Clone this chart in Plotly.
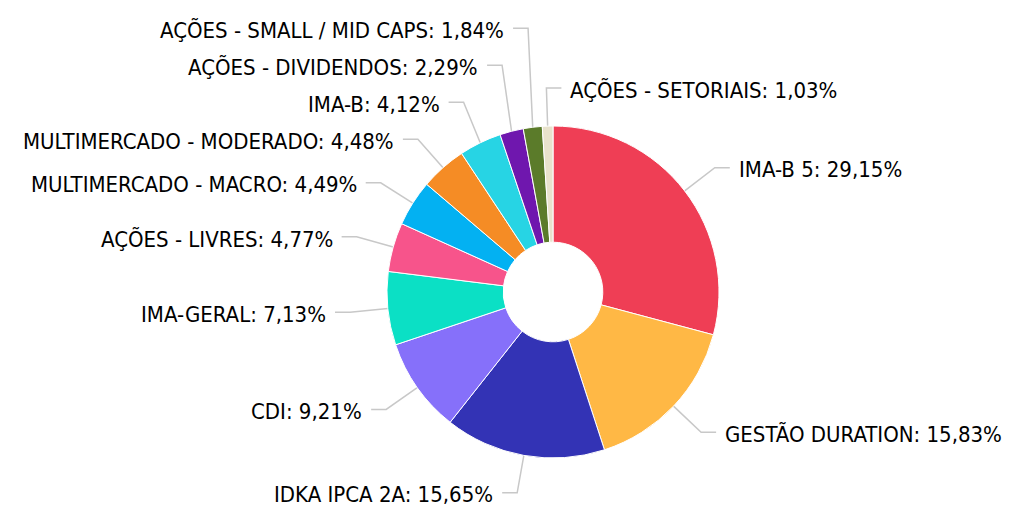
import math
import plotly.graph_objects as go

categories = ["IMA-B 5", "GESTÃO DURATION", "IDKA IPCA 2A", "CDI", "IMA-GERAL",
              "AÇÕES - LIVRES", "MULTIMERCADO - MACRO", "MULTIMERCADO - MODERADO",
              "IMA-B", "AÇÕES - DIVIDENDOS", "AÇÕES - SMALL / MID CAPS", "AÇÕES - SETORIAIS"]
values = [29.15, 15.83, 15.65, 9.21, 7.13, 4.77, 4.49, 4.48, 4.12, 2.29, 1.84, 1.03]
value_labels = ["29,15%", "15,83%", "15,65%", "9,21%", "7,13%", "4,77%", "4,49%", "4,48%",
                "4,12%", "2,29%", "1,84%", "1,03%"]
colors = ["#EF3E55", "#FFB845", "#3333B5", "#8670FA", "#0BE0C5", "#F7548B",
          "#03B1F2", "#F58C25", "#27D4E4", "#6F17AE", "#5B7B2A", "#E8E2CC"]

PAGE_OFFSET = 8          # default body margin of the html page
W, H = 1015 - PAGE_OFFSET, 512 - PAGE_OFFSET
CX, CY, R = 553 - PAGE_OFFSET, 292 - PAGE_OFFSET, 166
HOLE = 0.3
ELBOW = 38
SEG = 15
GAP = 7
MIN_SPACING = 37
FONT = dict(family="DejaVu Sans Condensed", size=22, color="#000000")

fig = go.Figure()
fig.add_trace(go.Pie(
    labels=categories, values=values, sort=False, direction="clockwise", rotation=0,
    hole=HOLE, marker=dict(colors=colors, line=dict(color="#ffffff", width=1)),
    textinfo="none", showlegend=False, hoverinfo="label+percent",
    domain=dict(x=[(CX - R) / W, (CX + R) / W], y=[(H - CY - R) / H, (H - CY + R) / H]),
))

total = sum(values)
cum = 0.0
items = []
for i, v in enumerate(values):
    mid = (cum + v / 2) / total * 360.0
    cum += v
    th = math.radians(mid)
    x0 = CX + R * math.sin(th)
    y0 = CY - R * math.cos(th)
    ex = CX + (R + ELBOW) * math.sin(th)
    ey = CY - (R + ELBOW) * math.cos(th)
    side = "left" if 180 <= mid < 357 else "right"
    items.append(dict(i=i, x0=x0, y0=y0, ex=ex, ey=ey, side=side, ly=ey))

# resolve overlaps per side (push labels upward)
for side in ("left", "right"):
    group = sorted([it for it in items if it["side"] == side], key=lambda d: -d["ey"])
    prev = None
    for it in group:
        y = it["ey"]
        if prev is not None and y > prev - MIN_SPACING:
            y = prev - MIN_SPACING
        it["ly"] = y
        prev = y

annotations = []
for it in items:
    sgn = 1 if it["side"] == "right" else -1
    xe = it["ex"] + sgn * SEG
    fig.add_trace(go.Scatter(
        x=[it["x0"], it["ex"], xe], y=[it["y0"], it["ly"], it["ly"]],
        mode="lines", line=dict(color="#C8C8C8", width=1.5),
        hoverinfo="skip", showlegend=False, xaxis="x", yaxis="y"))
    annotations.append(dict(
        x=xe + sgn * GAP, y=it["ly"] + 2, xref="x", yref="y",
        text=f"{categories[it['i']]}: {value_labels[it['i']]}",
        showarrow=False, xanchor="left" if sgn > 0 else "right", yanchor="middle",
        font=FONT))

fig.update_layout(
    width=W, height=H, autosize=False,
    margin=dict(l=0, r=0, t=0, b=0),
    paper_bgcolor="#ffffff", plot_bgcolor="rgba(0,0,0,0)",
    xaxis=dict(range=[0, W], visible=False, fixedrange=True, domain=[0, 1]),
    yaxis=dict(range=[H, 0], visible=False, fixedrange=True, domain=[0, 1]),
    annotations=annotations,
)
fig.write_html("out.html")
